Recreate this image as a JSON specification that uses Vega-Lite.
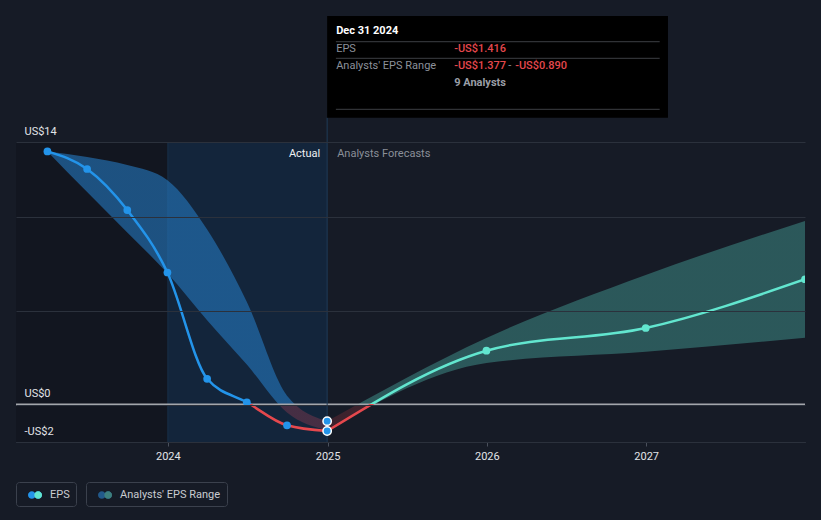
{
  "$schema": "https://vega.github.io/schema/vega-lite/v6.json",
  "width": 789,
  "height": 300,
  "autosize": "none",
  "padding": {"left": 16, "top": 142, "right": 16, "bottom": 78},
  "background": "#161b26",
  "config": {
    "view": {"stroke": null},
    "font": "Roboto",
    "axis": {"title": null},
    "text": {"font": "Roboto"}
  },
  "resolve": {"scale": {"fill": "independent"}, "legend": {"fill": "independent"}},
  "datasets": {
    "eps": [
      {"date": "2023-03-31", "eps": 13.5, "period": "actual"},
      {"date": "2023-06-30", "eps": 12.56, "period": "actual"},
      {"date": "2023-09-30", "eps": 10.37, "period": "actual"},
      {"date": "2023-12-31", "eps": 7.04, "period": "actual"},
      {"date": "2024-03-31", "eps": 1.37, "period": "actual"},
      {"date": "2024-06-30", "eps": 0.12, "period": "actual"},
      {"date": "2024-09-30", "eps": -1.11, "period": "actual"},
      {"date": "2024-12-31", "eps": -1.416, "period": "actual"},
      {"date": "2025-12-31", "eps": 2.87, "period": "forecast"},
      {"date": "2026-12-31", "eps": 4.08, "period": "forecast"},
      {"date": "2027-12-31", "eps": 6.68, "period": "forecast"}
    ],
    "range": [
      {"date": "2023-03-31", "low": 13.5, "high": 13.5, "period": "actual"},
      {"date": "2023-06-30", "low": 11.33, "high": 13.2, "period": "actual"},
      {"date": "2023-09-30", "low": 9.18, "high": 12.77, "period": "actual"},
      {"date": "2023-12-31", "low": 7.0, "high": 11.96, "period": "actual"},
      {"date": "2024-03-31", "low": 4.5, "high": 9.33, "period": "actual"},
      {"date": "2024-06-30", "low": 2.13, "high": 5.47, "period": "actual"},
      {"date": "2024-09-30", "low": -0.43, "high": 0.47, "period": "actual"},
      {"date": "2024-12-31", "low": -1.377, "high": -0.89, "period": "actual"},
      {"date": "2025-12-31", "low": 2.21, "high": 3.55, "period": "forecast"},
      {"date": "2026-12-31", "low": 2.82, "high": 6.91, "period": "forecast"},
      {"date": "2027-12-31", "low": 3.56, "high": 9.79, "period": "forecast"}
    ],
    "legendEps": [{"series": "EPS"}],
    "legendRange": [{"series": "Analysts' EPS Range"}]
  },
  "layer": [
    {
      "data": {"values": [{}]},
      "mark": {"type": "rect", "color": "#0b0e13", "opacity": 0.3},
      "encoding": {
        "x": {"datum": {"year": 2023, "month": 1, "date": 18, "utc": true}, "type": "temporal", "scale": {"type": "utc", "domain": [{"year": 2023, "month": 1, "date": 18, "utc": true}, {"year": 2027, "month": 12, "date": 31, "utc": true}]}},
        "x2": {"datum": {"year": 2024, "month": 1, "date": 1, "utc": true}}
      }
    },
    {
      "data": {"values": [{}]},
      "mark": {"type": "rect", "color": "#0f3050", "opacity": 0.5},
      "encoding": {
        "x": {"datum": {"year": 2024, "month": 1, "date": 1, "utc": true}, "type": "temporal", "scale": {"type": "utc", "domain": [{"year": 2023, "month": 1, "date": 18, "utc": true}, {"year": 2027, "month": 12, "date": 31, "utc": true}]}},
        "x2": {"datum": {"year": 2024, "month": 12, "date": 31, "utc": true}}
      }
    },
    {
      "data": {"values": [{}]},
      "mark": {"type": "rule", "color": "#183049", "strokeWidth": 1},
      "encoding": {
        "x": {"datum": {"year": 2024, "month": 1, "date": 1, "utc": true}, "type": "temporal", "scale": {"type": "utc", "domain": [{"year": 2023, "month": 1, "date": 18, "utc": true}, {"year": 2027, "month": 12, "date": 31, "utc": true}]}}
      }
    },
    {
      "data": {"name": "range"},
      "transform": [{"filter": {"field": "period", "equal": "actual"}}],
      "mark": {
        "type": "area",
        "interpolate": "monotone",
        "fill": {"gradient": "linear", "x1": 0, "y1": 0, "x2": 0, "y2": 1, "stops": [
          {"offset": 0, "color": "rgba(36,118,188,0.62)"},
          {"offset": 0.9075, "color": "rgba(36,118,188,0.62)"},
          {"offset": 0.9075, "color": "rgba(200,70,90,0.28)"},
          {"offset": 1, "color": "rgba(200,70,90,0.28)"}
        ]}
      },
      "encoding": {
        "x": {
          "field": "date", "type": "temporal",
          "scale": {"type": "utc", "domain": [{"year": 2023, "month": 1, "date": 18, "utc": true}, {"year": 2027, "month": 12, "date": 31, "utc": true}]},
          "axis": {
            "values": [{"year": 2024, "month": 1, "date": 1, "utc": true}, {"year": 2025, "month": 1, "date": 1, "utc": true}, {"year": 2026, "month": 1, "date": 1, "utc": true}, {"year": 2027, "month": 1, "date": 1, "utc": true}],
            "labelExpr": "utcFormat(datum.value, '%Y')",
            "grid": false, "domain": true, "domainColor": "#3d434e",
            "ticks": true, "tickSize": 4, "tickColor": "#4a505c",
            "labelColor": "#e2e4e8", "labelFontSize": 11, "labelPadding": 4, "labelFont": "Roboto"
          }
        },
        "y": {
          "field": "low", "type": "quantitative",
          "scale": {"domain": [-2, 14], "nice": false, "zero": false},
          "axis": {
            "values": [-2, 0, 5, 10, 14],
            "labelExpr": "datum.value == 5 || datum.value == 10 ? '' : (datum.value < 0 ? '-US$' + abs(datum.value) : 'US$' + datum.value)",
            "grid": true, "gridColor": "#2b313c", "domain": false, "ticks": false, "tickSize": 0,
            "labelAlign": "left", "labelPadding": -8, "labelOffset": -8, "labelBaseline": "alphabetic",
            "labelColor": "#e2e4e8", "labelFontSize": 11, "labelFont": "Roboto", "labelOverlap": false, "labelFlush": false,
            "zindex": 1
          }
        },
        "y2": {"field": "high"}
      }
    },
    {
      "data": {"name": "range"},
      "transform": [{"filter": {"field": "date", "gte": {"year": 2024, "month": 12, "date": 31, "utc": true}}}],
      "mark": {
        "type": "area",
        "interpolate": "monotone",
        "clip": true,
        "fill": {"gradient": "linear", "x1": 0, "y1": 0, "x2": 0, "y2": 1, "stops": [
          {"offset": 0, "color": "rgba(61,138,133,0.55)"},
          {"offset": 0.877, "color": "rgba(61,138,133,0.55)"},
          {"offset": 0.877, "color": "rgba(150,50,60,0.3)"},
          {"offset": 1, "color": "rgba(150,50,60,0.3)"}
        ]}
      },
      "encoding": {
        "x": {"field": "date", "type": "temporal", "scale": {"type": "utc", "domain": [{"year": 2023, "month": 1, "date": 18, "utc": true}, {"year": 2027, "month": 12, "date": 31, "utc": true}]}},
        "y": {"field": "low", "type": "quantitative", "scale": {"domain": [-2, 14], "nice": false, "zero": false}},
        "y2": {"field": "high"}
      }
    },
    {
      "data": {"values": [{}]},
      "mark": {"type": "rule", "color": "#a3a6ab", "strokeWidth": 2},
      "encoding": {
        "y": {"datum": 0, "type": "quantitative", "scale": {"domain": [-2, 14], "nice": false, "zero": false}}
      }
    },
    {
      "data": {"values": [{}]},
      "mark": {"type": "rule", "color": "#1f3b58", "strokeWidth": 1},
      "encoding": {
        "x": {"datum": {"year": 2024, "month": 12, "date": 31, "utc": true}, "type": "temporal", "scale": {"type": "utc", "domain": [{"year": 2023, "month": 1, "date": 18, "utc": true}, {"year": 2027, "month": 12, "date": 31, "utc": true}]}},
        "y": {"datum": -2, "type": "quantitative", "scale": {"domain": [-2, 14], "nice": false, "zero": false}},
        "y2": {"datum": 15.296}
      }
    },
    {
      "data": {"name": "eps"},
      "transform": [{"filter": {"field": "period", "equal": "actual"}}],
      "mark": {
        "type": "line", "interpolate": "monotone", "strokeWidth": 2.5,
        "stroke": {"gradient": "linear", "x1": 0, "y1": 0, "x2": 0, "y2": 1, "stops": [
          {"offset": 0, "color": "#2394ea"},
          {"offset": 0.905, "color": "#2394ea"},
          {"offset": 0.905, "color": "#e5484d"},
          {"offset": 1, "color": "#e5484d"}
        ]}
      },
      "encoding": {
        "x": {"field": "date", "type": "temporal", "scale": {"type": "utc", "domain": [{"year": 2023, "month": 1, "date": 18, "utc": true}, {"year": 2027, "month": 12, "date": 31, "utc": true}]}},
        "y": {"field": "eps", "type": "quantitative", "scale": {"domain": [-2, 14], "nice": false, "zero": false}}
      }
    },
    {
      "data": {"name": "eps"},
      "transform": [{"filter": {"field": "date", "gte": {"year": 2024, "month": 12, "date": 31, "utc": true}}}],
      "mark": {
        "type": "line", "interpolate": "monotone", "strokeWidth": 2.5, "clip": true,
        "stroke": {"gradient": "linear", "x1": 0, "y1": 0, "x2": 0, "y2": 1, "stops": [
          {"offset": 0, "color": "#62e6cf"},
          {"offset": 0.825, "color": "#62e6cf"},
          {"offset": 0.825, "color": "#e5484d"},
          {"offset": 1, "color": "#e5484d"}
        ]}
      },
      "encoding": {
        "x": {"field": "date", "type": "temporal", "scale": {"type": "utc", "domain": [{"year": 2023, "month": 1, "date": 18, "utc": true}, {"year": 2027, "month": 12, "date": 31, "utc": true}]}},
        "y": {"field": "eps", "type": "quantitative", "scale": {"domain": [-2, 14], "nice": false, "zero": false}}
      }
    },
    {
      "data": {"name": "eps"},
      "transform": [{"filter": {"and": [{"field": "period", "equal": "actual"}, {"field": "date", "lt": {"year": 2024, "month": 12, "date": 31, "utc": true}}]}}],
      "mark": {"type": "point", "filled": true, "size": 60, "color": "#2394ea", "opacity": 1},
      "encoding": {
        "x": {"field": "date", "type": "temporal", "scale": {"type": "utc", "domain": [{"year": 2023, "month": 1, "date": 18, "utc": true}, {"year": 2027, "month": 12, "date": 31, "utc": true}]}},
        "y": {"field": "eps", "type": "quantitative", "scale": {"domain": [-2, 14], "nice": false, "zero": false}}
      }
    },
    {
      "data": {"name": "eps"},
      "transform": [{"filter": {"field": "period", "equal": "forecast"}}],
      "mark": {"type": "point", "filled": true, "size": 60, "color": "#62e6cf", "opacity": 1, "clip": true},
      "encoding": {
        "x": {"field": "date", "type": "temporal", "scale": {"type": "utc", "domain": [{"year": 2023, "month": 1, "date": 18, "utc": true}, {"year": 2027, "month": 12, "date": 31, "utc": true}]}},
        "y": {"field": "eps", "type": "quantitative", "scale": {"domain": [-2, 14], "nice": false, "zero": false}}
      }
    },
    {
      "data": {"name": "range"},
      "transform": [{"filter": {"field": "date", "equal": {"year": 2024, "month": 12, "date": 31, "utc": true}}}],
      "mark": {"type": "point", "filled": true, "size": 70, "fill": "#2394ea", "stroke": "#ffffff", "strokeWidth": 1.5, "opacity": 1},
      "encoding": {
        "x": {"field": "date", "type": "temporal", "scale": {"type": "utc", "domain": [{"year": 2023, "month": 1, "date": 18, "utc": true}, {"year": 2027, "month": 12, "date": 31, "utc": true}]}},
        "y": {"field": "high", "type": "quantitative", "scale": {"domain": [-2, 14], "nice": false, "zero": false}}
      }
    },
    {
      "data": {"name": "eps"},
      "transform": [{"filter": {"field": "date", "equal": {"year": 2024, "month": 12, "date": 31, "utc": true}}}],
      "mark": {"type": "point", "filled": true, "size": 70, "fill": "#2394ea", "stroke": "#ffffff", "strokeWidth": 1.5, "opacity": 1},
      "encoding": {
        "x": {"field": "date", "type": "temporal", "scale": {"type": "utc", "domain": [{"year": 2023, "month": 1, "date": 18, "utc": true}, {"year": 2027, "month": 12, "date": 31, "utc": true}]}},
        "y": {"field": "eps", "type": "quantitative", "scale": {"domain": [-2, 14], "nice": false, "zero": false}}
      }
    },
    {
      "data": {"values": [{}]},
      "mark": {"type": "rect", "fill": "#000000"},
      "encoding": {
        "x": {"datum": {"year": 2024, "month": 12, "date": 31, "utc": true}, "type": "temporal", "scale": {"type": "utc", "domain": [{"year": 2023, "month": 1, "date": 18, "utc": true}, {"year": 2027, "month": 12, "date": 31, "utc": true}]}},
        "x2": {"datum": {"year": 2027, "month": 2, "date": 20, "utc": true}},
        "y": {"datum": 20.72, "type": "quantitative", "scale": {"domain": [-2, 14], "nice": false, "zero": false}},
        "y2": {"datum": 15.296}
      }
    },
    {
      "data": {"values": [{}]},
      "mark": {"type": "rule", "color": "#3d3f44", "strokeWidth": 1},
      "encoding": {
        "x": {"datum": {"year": 2025, "month": 1, "date": 20, "utc": true}, "type": "temporal", "scale": {"type": "utc", "domain": [{"year": 2023, "month": 1, "date": 18, "utc": true}, {"year": 2027, "month": 12, "date": 31, "utc": true}]}},
        "x2": {"datum": {"year": 2027, "month": 2, "date": 1, "utc": true}},
        "y": {"datum": 19.349, "type": "quantitative", "scale": {"domain": [-2, 14], "nice": false, "zero": false}}
      }
    },
    {
      "data": {"values": [{}]},
      "mark": {"type": "rule", "color": "#3d3f44", "strokeWidth": 1},
      "encoding": {
        "x": {"datum": {"year": 2025, "month": 1, "date": 20, "utc": true}, "type": "temporal", "scale": {"type": "utc", "domain": [{"year": 2023, "month": 1, "date": 18, "utc": true}, {"year": 2027, "month": 12, "date": 31, "utc": true}]}},
        "x2": {"datum": {"year": 2027, "month": 2, "date": 1, "utc": true}},
        "y": {"datum": 18.464, "type": "quantitative", "scale": {"domain": [-2, 14], "nice": false, "zero": false}}
      }
    },
    {
      "data": {"values": [{}]},
      "mark": {"type": "rule", "color": "#3d3f44", "strokeWidth": 1},
      "encoding": {
        "x": {"datum": {"year": 2025, "month": 1, "date": 20, "utc": true}, "type": "temporal", "scale": {"type": "utc", "domain": [{"year": 2023, "month": 1, "date": 18, "utc": true}, {"year": 2027, "month": 12, "date": 31, "utc": true}]}},
        "x2": {"datum": {"year": 2027, "month": 2, "date": 1, "utc": true}},
        "y": {"datum": 15.744, "type": "quantitative", "scale": {"domain": [-2, 14], "nice": false, "zero": false}}
      }
    },
    {
      "data": {"values": [{}]},
      "mark": {"type": "text", "text": "Dec 31 2024", "align": "left", "baseline": "middle", "dx": 9, "fontSize": 11, "fontWeight": "bold", "color": "#ffffff"},
      "encoding": {
        "x": {"datum": {"year": 2024, "month": 12, "date": 31, "utc": true}, "type": "temporal", "scale": {"type": "utc", "domain": [{"year": 2023, "month": 1, "date": 18, "utc": true}, {"year": 2027, "month": 12, "date": 31, "utc": true}]}},
        "y": {"datum": 19.904, "type": "quantitative", "scale": {"domain": [-2, 14], "nice": false, "zero": false}}
      }
    },
    {
      "data": {"values": [{}]},
      "mark": {"type": "text", "text": "EPS", "align": "left", "baseline": "middle", "dx": 9, "fontSize": 11, "color": "#8c919a"},
      "encoding": {
        "x": {"datum": {"year": 2024, "month": 12, "date": 31, "utc": true}, "type": "temporal", "scale": {"type": "utc", "domain": [{"year": 2023, "month": 1, "date": 18, "utc": true}, {"year": 2027, "month": 12, "date": 31, "utc": true}]}},
        "y": {"datum": 18.944, "type": "quantitative", "scale": {"domain": [-2, 14], "nice": false, "zero": false}}
      }
    },
    {
      "data": {"values": [{}]},
      "mark": {"type": "text", "text": "-US$1.416", "align": "left", "baseline": "middle", "dx": 127, "fontSize": 11, "fontWeight": 500, "color": "#e5484d"},
      "encoding": {
        "x": {"datum": {"year": 2024, "month": 12, "date": 31, "utc": true}, "type": "temporal", "scale": {"type": "utc", "domain": [{"year": 2023, "month": 1, "date": 18, "utc": true}, {"year": 2027, "month": 12, "date": 31, "utc": true}]}},
        "y": {"datum": 18.944, "type": "quantitative", "scale": {"domain": [-2, 14], "nice": false, "zero": false}}
      }
    },
    {
      "data": {"values": [{}]},
      "mark": {"type": "text", "text": "Analysts' EPS Range", "align": "left", "baseline": "middle", "dx": 9, "fontSize": 11, "color": "#8c919a"},
      "encoding": {
        "x": {"datum": {"year": 2024, "month": 12, "date": 31, "utc": true}, "type": "temporal", "scale": {"type": "utc", "domain": [{"year": 2023, "month": 1, "date": 18, "utc": true}, {"year": 2027, "month": 12, "date": 31, "utc": true}]}},
        "y": {"datum": 18.053, "type": "quantitative", "scale": {"domain": [-2, 14], "nice": false, "zero": false}}
      }
    },
    {
      "data": {"values": [{}]},
      "mark": {"type": "text", "text": "-US$1.377", "align": "left", "baseline": "middle", "dx": 127, "fontSize": 11, "fontWeight": 500, "color": "#e5484d"},
      "encoding": {
        "x": {"datum": {"year": 2024, "month": 12, "date": 31, "utc": true}, "type": "temporal", "scale": {"type": "utc", "domain": [{"year": 2023, "month": 1, "date": 18, "utc": true}, {"year": 2027, "month": 12, "date": 31, "utc": true}]}},
        "y": {"datum": 18.053, "type": "quantitative", "scale": {"domain": [-2, 14], "nice": false, "zero": false}}
      }
    },
    {
      "data": {"values": [{}]},
      "mark": {"type": "text", "text": "-", "align": "left", "baseline": "middle", "dx": 181, "fontSize": 11, "color": "#8c919a"},
      "encoding": {
        "x": {"datum": {"year": 2024, "month": 12, "date": 31, "utc": true}, "type": "temporal", "scale": {"type": "utc", "domain": [{"year": 2023, "month": 1, "date": 18, "utc": true}, {"year": 2027, "month": 12, "date": 31, "utc": true}]}},
        "y": {"datum": 18.053, "type": "quantitative", "scale": {"domain": [-2, 14], "nice": false, "zero": false}}
      }
    },
    {
      "data": {"values": [{}]},
      "mark": {"type": "text", "text": "-US$0.890", "align": "left", "baseline": "middle", "dx": 188, "fontSize": 11, "fontWeight": 500, "color": "#e5484d"},
      "encoding": {
        "x": {"datum": {"year": 2024, "month": 12, "date": 31, "utc": true}, "type": "temporal", "scale": {"type": "utc", "domain": [{"year": 2023, "month": 1, "date": 18, "utc": true}, {"year": 2027, "month": 12, "date": 31, "utc": true}]}},
        "y": {"datum": 18.053, "type": "quantitative", "scale": {"domain": [-2, 14], "nice": false, "zero": false}}
      }
    },
    {
      "data": {"values": [{}]},
      "mark": {"type": "text", "text": "9 Analysts", "align": "left", "baseline": "middle", "dx": 127, "fontSize": 11, "fontWeight": "bold", "color": "#9a9ea6"},
      "encoding": {
        "x": {"datum": {"year": 2024, "month": 12, "date": 31, "utc": true}, "type": "temporal", "scale": {"type": "utc", "domain": [{"year": 2023, "month": 1, "date": 18, "utc": true}, {"year": 2027, "month": 12, "date": 31, "utc": true}]}},
        "y": {"datum": 17.163, "type": "quantitative", "scale": {"domain": [-2, 14], "nice": false, "zero": false}}
      }
    },
    {
      "data": {"values": [{}]},
      "mark": {"type": "text", "text": "Actual", "align": "right", "baseline": "middle", "dx": -7, "fontSize": 11, "color": "#eef0f2"},
      "encoding": {
        "x": {"datum": {"year": 2024, "month": 12, "date": 31, "utc": true}, "type": "temporal", "scale": {"type": "utc", "domain": [{"year": 2023, "month": 1, "date": 18, "utc": true}, {"year": 2027, "month": 12, "date": 31, "utc": true}]}},
        "y": {"datum": 13.36, "type": "quantitative", "scale": {"domain": [-2, 14], "nice": false, "zero": false}}
      }
    },
    {
      "data": {"values": [{}]},
      "mark": {"type": "text", "text": "Analysts Forecasts", "align": "left", "baseline": "middle", "dx": 10, "fontSize": 11, "color": "#8a8f98"},
      "encoding": {
        "x": {"datum": {"year": 2024, "month": 12, "date": 31, "utc": true}, "type": "temporal", "scale": {"type": "utc", "domain": [{"year": 2023, "month": 1, "date": 18, "utc": true}, {"year": 2027, "month": 12, "date": 31, "utc": true}]}},
        "y": {"datum": 13.36, "type": "quantitative", "scale": {"domain": [-2, 14], "nice": false, "zero": false}}
      }
    },
    {
      "data": {"name": "legendEps"},
      "mark": {"type": "point", "filled": true, "opacity": 0},
      "encoding": {
        "fill": {
          "field": "series", "type": "nominal",
          "scale": {"range": ["#2394ea"]},
          "legend": {
            "title": null, "orient": "none", "legendX": 0, "legendY": 340,
            "symbolType": "M -1 0 A 0.55 0.55 0 1 0 0.1 0 A 0.55 0.55 0 1 0 -1 0 Z M -0.1 0 A 0.55 0.55 0 1 0 1 0 A 0.55 0.55 0 1 0 -0.1 0 Z",
            "symbolSize": 196, "symbolOpacity": 1, "symbolStrokeWidth": 0,
            "strokeColor": "#3b414d", "cornerRadius": 3, "padding": 6, "symbolOffset": 6, "labelOffset": 8,
            "labelExpr": "datum.label + '\u00a0\u00a0\u00a0\u00a0'",
            "labelColor": "#c9ccd1", "labelFontSize": 11, "labelFont": "Roboto"
          }
        }
      }
    },
    {
      "data": {"name": "legendEps"},
      "mark": {"type": "point", "filled": true, "opacity": 0},
      "encoding": {
        "fill": {
          "field": "series", "type": "nominal",
          "scale": {"range": ["#62e6cf"]},
          "legend": {
            "title": null, "orient": "none", "legendX": 0, "legendY": 340,
            "symbolType": "M -0.1 0 A 0.55 0.55 0 1 0 1 0 A 0.55 0.55 0 1 0 -0.1 0 Z",
            "symbolSize": 196, "symbolOpacity": 1, "symbolStrokeWidth": 0,
            "padding": 6, "symbolOffset": 6, "labelOffset": 8,
            "labelExpr": "datum.label + '\u00a0\u00a0\u00a0\u00a0'",
            "labelColor": "transparent", "labelFontSize": 11, "labelFont": "Roboto"
          }
        }
      }
    },
    {
      "data": {"name": "legendRange"},
      "mark": {"type": "point", "filled": true, "opacity": 0},
      "encoding": {
        "fill": {
          "field": "series", "type": "nominal",
          "scale": {"range": ["#22598a"]},
          "legend": {
            "title": null, "orient": "none", "legendX": 70, "legendY": 340,
            "symbolType": "M -1 0 A 0.55 0.55 0 1 0 0.1 0 A 0.55 0.55 0 1 0 -1 0 Z M -0.1 0 A 0.55 0.55 0 1 0 1 0 A 0.55 0.55 0 1 0 -0.1 0 Z",
            "symbolSize": 196, "symbolOpacity": 1, "symbolStrokeWidth": 0,
            "strokeColor": "#3b414d", "cornerRadius": 3, "padding": 6, "symbolOffset": 6, "labelOffset": 8,
            "labelExpr": "datum.label + '\u00a0\u00a0\u00a0\u00a0'",
            "labelColor": "#c9ccd1", "labelFontSize": 11, "labelFont": "Roboto"
          }
        }
      }
    },
    {
      "data": {"name": "legendRange"},
      "mark": {"type": "point", "filled": true, "opacity": 0},
      "encoding": {
        "fill": {
          "field": "series", "type": "nominal",
          "scale": {"range": ["#3d7f7d"]},
          "legend": {
            "title": null, "orient": "none", "legendX": 70, "legendY": 340,
            "symbolType": "M -0.1 0 A 0.55 0.55 0 1 0 1 0 A 0.55 0.55 0 1 0 -0.1 0 Z",
            "symbolSize": 196, "symbolOpacity": 1, "symbolStrokeWidth": 0,
            "padding": 6, "symbolOffset": 6, "labelOffset": 8,
            "labelExpr": "datum.label + '\u00a0\u00a0\u00a0\u00a0'",
            "labelColor": "transparent", "labelFontSize": 11, "labelFont": "Roboto"
          }
        }
      }
    }
  ]
}
